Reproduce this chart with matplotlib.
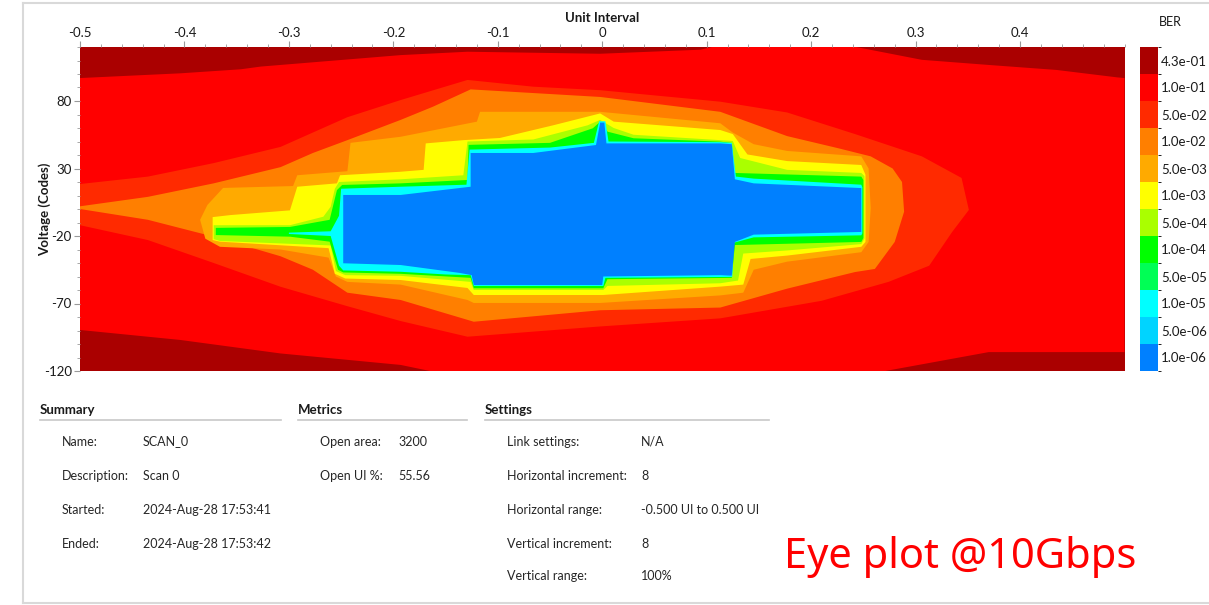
import matplotlib
matplotlib.use("Agg")
import numpy as np
import matplotlib.pyplot as plt
from matplotlib.colors import ListedColormap, BoundaryNorm
import matplotlib.colorbar as mcolorbar
from matplotlib.ticker import MultipleLocator
from matplotlib.lines import Line2D

plt.rcParams['font.family'] = ['Lato', 'DejaVu Sans']
plt.rcParams['axes.unicode_minus'] = False

# ---------------- data ----------------
ber_labels = ["4.3e-01", "1.0e-01", "5.0e-02", "1.0e-02", "5.0e-03", "1.0e-03",
              "5.0e-04", "1.0e-04", "5.0e-05", "1.0e-05", "5.0e-06", "1.0e-06"]
ber_colors = ["#AA0000", "#FF0000", "#FF2A00", "#FF7F00", "#FFAA00", "#FFFF00",
              "#AAFF00", "#00FF00", "#00FF55", "#00FFFF", "#00D4FF", "#0080FF"]

x_ticks = [-0.5, -0.4, -0.3, -0.2, -0.1, 0.0, 0.1, 0.2, 0.3, 0.4]
x_tick_labels = ["-0.5", "-0.4", "-0.3", "-0.2", "-0.1", "0", "0.1", "0.2", "0.3", "0.4"]
y_ticks = [-120, -70, -20, 30, 80]
y_tick_labels = ["-120", "-70", "-20", "30", "80"]

# contour outlines (UI, codes): upper edge left->right, then lower edge right->left
band_1e1_x = [-0.5, -0.404, -0.346, -0.327, -0.193, -0.129, -0.002, 0.094, 0.105, 0.243, 0.306, 0.370,
              0.435, 0.493, 0.5, 0.5, 0.370, 0.271, -0.165, -0.193, -0.308, -0.404, -0.5]
band_1e1_y = [97, 100.5, 103.5, 105.5, 114, 116.5, 115, 118, 120, 120, 110.5, 106.7,
              103, 97.5, 97, -106, -106, -120, -120, -115.5, -107, -97, -89.6]

band_5e2_x = [-0.5, -0.435, -0.372, -0.308, -0.244, -0.193, -0.129, -0.066, -0.002, 0.113, 0.177, 0.242,
              0.306, 0.344, 0.351, 0.335, 0.313, 0.274, 0.210, 0.113, -0.002, -0.129, -0.193, -0.244,
              -0.308, -0.372, -0.435, -0.5]
band_5e2_y = [18.5, 24, 34, 46, 68, 80.7, 95.6, 90.6, 88, 79.5, 71.5, 55.5,
              39, 23, -0.7, -17, -42, -54, -68, -81, -87, -94.6, -83, -72,
              -57.6, -40, -23, -12]

band_1e2_x = [-0.5, -0.435, -0.372, -0.308, -0.277, -0.244, -0.193, -0.162, -0.126, -0.002, 0.113, 0.145,
              0.177, 0.226, 0.257, 0.278, 0.287, 0.289, 0.280, 0.261, 0.242, 0.177, 0.113, -0.002,
              -0.123, -0.193, -0.244, -0.277, -0.308, -0.372, -0.435, -0.5]
band_1e2_y = [2, 9, 19, 31, 41.5, 51, 66, 75.8, 88.6, 83, 72, 63,
              54, 45, 39, 30, 20, -2, -24.4, -44.4, -46.7, -59, -73, -75,
              -83.5, -67.4, -62, -45, -35, -20.5, -8, 0]

band_5e3_x = [-0.385, -0.378, -0.363, -0.296, -0.292, -0.244, -0.241, -0.193, -0.120, -0.117, -0.002, 0.113,
              0.125, 0.145, 0.177, 0.248, 0.255, 0.257, 0.255, 0.248, 0.177, 0.145, 0.135, 0.113,
              -0.002, -0.123, -0.129, -0.193, -0.244, -0.255, -0.262, -0.308, -0.366, -0.380]
band_5e3_y = [-8, 3, 15.6, 17, 25, 28, 49, 53.5, 64.7, 72, 72, 63.5,
              56.6, 48, 43, 39, 30, 0.7, -24.4, -32, -39, -45, -62, -64,
              -69.6, -69.6, -67.4, -56, -54, -50, -36, -30, -28, -22]

band_1e3_x = [-0.373, -0.356, -0.299, -0.292, -0.254, -0.251, -0.193, -0.171, -0.169, -0.133, -0.098, -0.047,
              -0.002, 0.011, 0.113, 0.125, 0.139, 0.177, 0.248, 0.252, 0.252, 0.248, 0.177, 0.142,
              0.135, 0.113, 0.001, -0.123, -0.129, -0.193, -0.246, -0.256, -0.262, -0.366, -0.373]
band_1e3_y = [-6, -4.5, -1, 16.5, 19, 25, 27.6, 29, 48.6, 51, 52.6, 62,
              70.8, 64.7, 58.5, 55.5, 40.4, 35.5, 32.6, 25.4, -24.4, -28, -34.5, -37,
              -56, -57.5, -63.7, -63.7, -58.5, -52.6, -51.5, -48, -29, -24.2, -23]

band_5e4_x = [-0.372, -0.299, -0.267, -0.260, -0.256, -0.252, -0.193, -0.133, -0.129, -0.066, -0.014, -0.002,
              0.011, 0.030, 0.113, 0.125, 0.132, 0.177, 0.248, 0.251, 0.251, 0.248, 0.177, 0.135,
              0.130, 0.113, 0.005, 0.001, -0.123, -0.126, -0.193, -0.246, -0.255, -0.260, -0.366, -0.372]
band_5e4_y = [-12, -12, -5.7, 1.7, 15, 20, 22, 25, 50, 51.5, 62, 66,
              60, 55, 51, 50.4, 37.8, 29, 26.7, 24.4, -22, -26, -30.7, -33,
              -53, -55, -57, -60, -60, -54, -49.5, -49, -46, -27, -23.7, -22.3]

band_1e4_x = [-0.370, -0.299, -0.261, -0.254, -0.249, -0.193, -0.129, -0.128, -0.05, -0.009, -0.002, 0.005,
              0.030, 0.113, 0.124, 0.127, 0.248, 0.250, 0.250, 0.248, 0.127, 0.124, 0.005, 0.001,
              -0.123, -0.126, -0.193, -0.248, -0.253, -0.261, -0.299, -0.370]
band_1e4_y = [-14, -13.3, -8, 14, 17.8, 19, 21.5, 47.5, 49, 59.8, 64.7, 57.3,
              52.4, 49.9, 48.9, 26.7, 24, 21.5, -21.5, -24.4, -26.7, -51, -52, -58.7,
              -58.7, -51, -48, -47, -45, -24.2, -20.5, -19.3]

band_1e5_x = [-0.30, -0.26, -0.252, -0.250, -0.193, -0.13, -0.127, -0.05, -0.008, -0.003, 0.003, 0.006,
              0.113, 0.124, 0.128, 0.145, 0.248, 0.249, 0.249, 0.248, 0.145, 0.126, 0.1245, 0.003,
              0.001, -0.123, -0.126, -0.15, -0.193, -0.248, -0.252, -0.26, -0.30]
band_1e5_y = [-17.5, -16.5, -5, 15, 16.5, 18, 44, 45.5, 49, 65, 65, 50,
              49.5, 49, 24, 22.5, 18, 16, -18, -19.5, -21, -25, -50.3, -51,
              -57, -57, -49, -48.5, -46.5, -45.5, -42, -20, -18.5]

band_1e6_x = [-0.248, -0.193, -0.126, -0.126, -0.066, -0.006, -0.002, 0.002, 0.004, 0.113, 0.124, 0.127,
              0.145, 0.248, 0.248, 0.145, 0.127, 0.124, 0.113, 0.001, 0.0, -0.123, -0.125, -0.136,
              -0.193, -0.248]
band_1e6_y = [10.4, 10.4, 16.5, 41.5, 41.5, 47.4, 64, 64, 48.6, 48.6, 48, 22,
              19, 15.5, -17, -19, -24.4, -49.4, -49, -50, -56.3, -56.3, -49, -47.4,
              -41.5, -40.2]

summary_labels = ["Name:", "Description:", "Started:", "Ended:"]
summary_values = ["SCAN_0", "Scan 0", "2024-Aug-28 17:53:41", "2024-Aug-28 17:53:42"]
metrics_labels = ["Open area:", "Open UI %:"]
metrics_values = ["3200", "55.56"]
settings_labels = ["Link settings:", "Horizontal increment:", "Horizontal range:",
                   "Vertical increment:", "Vertical range:"]
settings_values = ["N/A", "8", "-0.500 UI to 0.500 UI", "8", "100%"]

# ---------------- figure ----------------
W, H = 1209, 605
fig = plt.figure(figsize=(W / 100, H / 100), dpi=100)
fig.patch.set_facecolor("white")


def fx(px):
    return px / W


def fy(py):
    return 1 - py / H


ax = fig.add_axes([fx(80), fy(371), (1124.5 - 80) / W, (371 - 47) / H])
ax.set_xlim(-0.5, 0.5)
ax.set_ylim(-120, 120)
ax.set_facecolor(ber_colors[0])

bands = [(band_1e1_x, band_1e1_y, ber_colors[1]),
         (band_5e2_x, band_5e2_y, ber_colors[2]),
         (band_1e2_x, band_1e2_y, ber_colors[3]),
         (band_5e3_x, band_5e3_y, ber_colors[4]),
         (band_1e3_x, band_1e3_y, ber_colors[5]),
         (band_5e4_x, band_5e4_y, ber_colors[6]),
         (band_1e4_x, band_1e4_y, ber_colors[7]),
         (band_1e5_x, band_1e5_y, ber_colors[9]),
         (band_1e6_x, band_1e6_y, ber_colors[11])]
for bx, by, col in bands:
    ax.fill(bx, by, color=col, lw=0, antialiased=True)

for s in ax.spines.values():
    s.set_visible(False)

ax.xaxis.tick_top()
ax.xaxis.set_label_position("top")
ax.set_xticks(x_ticks)
ax.set_xticklabels(x_tick_labels)
ax.xaxis.set_minor_locator(MultipleLocator(0.02))
ax.set_yticks(y_ticks)
ax.set_yticklabels(y_tick_labels)
ax.yaxis.set_minor_locator(MultipleLocator(10))
ax.tick_params(which="major", direction="out", length=4, width=0.8, color="#9a9a9a",
               labelsize=9.5, labelcolor="#1a1a1a", pad=2)
ax.tick_params(which="minor", direction="out", length=2.5, width=0.6, color="#9a9a9a")
ax.set_xlabel("Unit Interval", fontsize=9.5, fontweight="bold", labelpad=3, color="#1a1a1a")
ax.set_ylabel("Voltage (Codes)", fontsize=9.5, fontweight="bold", color="#1a1a1a")
ax.yaxis.set_label_coords(-0.028, 0.5)

# colour bar
cax = fig.add_axes([fx(1140), fy(371), 18 / W, (371 - 47) / H])
cmap = ListedColormap(ber_colors[::-1])
norm = BoundaryNorm(np.arange(len(ber_colors) + 1), len(ber_colors))
cb = mcolorbar.ColorbarBase(cax, cmap=cmap, norm=norm,
                            ticks=np.arange(len(ber_colors)) + 0.5)
cb.set_ticklabels(ber_labels[::-1])
cb.outline.set_visible(False)
cax.tick_params(length=0, labelsize=9.5, pad=2, labelcolor="#1a1a1a")
fig.text(fx(1170), fy(22), "BER", ha="center", va="center", fontsize=9, color="#1a1a1a")

# panel border
line_kw = dict(transform=fig.transFigure, color="#d9d9d9", lw=1.5)
fig.add_artist(Line2D([fx(22.5), fx(22.5)], [fy(3), fy(603)], **line_kw))
fig.add_artist(Line2D([fx(22.5), fx(1209)], [fy(3), fy(3)], **line_kw))
fig.add_artist(Line2D([fx(22.5), fx(1209)], [fy(603), fy(603)], **line_kw))

# summary tables
txt_kw = dict(fontsize=9, color="#262626", va="baseline", ha="left")
hdr_kw = dict(fontsize=9.5, color="#1a1a1a", va="baseline", ha="left", fontweight="bold")
sections = [("Summary", 40, 281), ("Metrics", 298, 467), ("Settings", 485, 769)]
for name, x0, x1 in sections:
    fig.text(fx(x0), fy(413.5), name, **hdr_kw)
    fig.add_artist(Line2D([fx(x0), fx(x1)], [fy(420), fy(420)],
                          transform=fig.transFigure, color="#c8c8c8", lw=1.2))

row_y = [445.5, 479.5, 513.5, 547.5, 580.5]
for i, (lab, val) in enumerate(zip(summary_labels, summary_values)):
    fig.text(fx(62), fy(row_y[i]), lab, **txt_kw)
    fig.text(fx(143), fy(row_y[i]), val, **txt_kw)
for i, (lab, val) in enumerate(zip(metrics_labels, metrics_values)):
    fig.text(fx(320), fy(row_y[i]), lab, **txt_kw)
    fig.text(fx(398), fy(row_y[i]), val, **txt_kw)
for i, (lab, val) in enumerate(zip(settings_labels, settings_values)):
    fig.text(fx(507), fy(row_y[i]), lab, **txt_kw)
    fig.text(fx(641), fy(row_y[i]), val, **txt_kw)

fig.text(fx(784), fy(557), "Eye plot @10Gbps", fontsize=30, color="#FF0000",
         va="center", ha="left", family=["Noto Sans", "DejaVu Sans"])

fig.savefig("out.png", dpi=100)
